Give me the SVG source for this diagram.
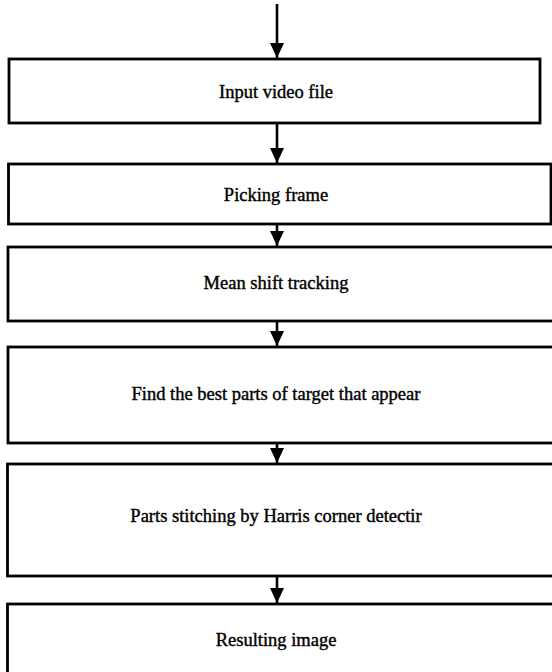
<svg xmlns="http://www.w3.org/2000/svg" width="552" height="672" viewBox="0 0 552 672">
<style>
.box{fill:#fff;stroke:#000;stroke-width:2.8}
.lbl{font-family:"Liberation Serif","Times New Roman",serif;font-size:18.5px;fill:#000;stroke:#000;stroke-width:0.4;text-anchor:middle;dominant-baseline:central}
.con{stroke:#000;stroke-width:2.6;fill:none;marker-end:url(#ah)}
</style>
<defs>
<marker id="ah" markerUnits="userSpaceOnUse" markerWidth="16" markerHeight="16" viewBox="0 0 16 16" refX="15" refY="8" orient="auto">
<path d="M0,1 L15,8 L0,15 Z" fill="#000"/>
</marker>
</defs>
<rect width="552" height="672" fill="#fff"/>
<g id="connectors">
<line class="con" x1="277" y1="4" x2="277" y2="58"/>
<line class="con" x1="277" y1="124" x2="277" y2="163"/>
<line class="con" x1="277" y1="225" x2="277" y2="246"/>
<line class="con" x1="277" y1="322" x2="277" y2="346"/>
<line class="con" x1="277" y1="444" x2="277" y2="463"/>
<line class="con" x1="277" y1="577" x2="277" y2="603"/>
</g>
<g id="n1"><rect class="box" x="9" y="59" width="531" height="64"/><text class="lbl" x="276" y="92">Input video file</text></g>
<g id="n2"><rect class="box" x="8.5" y="164" width="542.5" height="60"/><text class="lbl" x="276" y="195">Picking frame</text></g>
<g id="n3"><rect class="box" x="8" y="247" width="546" height="74"/><text class="lbl" x="276" y="283">Mean shift tracking</text></g>
<g id="n4"><rect class="box" x="8" y="347" width="546" height="96"/><text class="lbl" x="276" y="394">Find the best parts of target that appear</text></g>
<g id="n5"><rect class="box" x="7.5" y="464" width="546" height="112"/><text class="lbl" x="276" y="516">Parts stitching by Harris corner detectir</text></g>
<g id="n6"><rect class="box" x="7.5" y="604" width="546" height="80"/><text class="lbl" x="276" y="640">Resulting image</text></g>
</svg>
